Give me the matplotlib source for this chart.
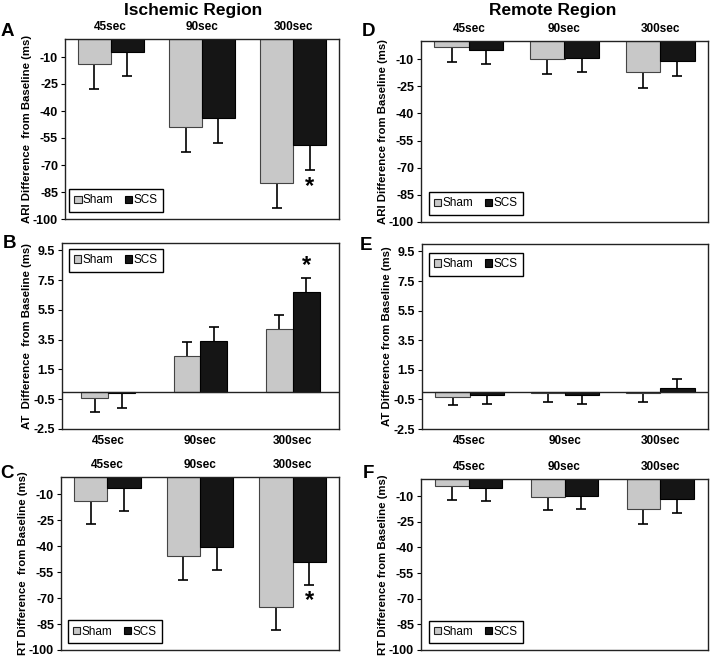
import matplotlib
matplotlib.use("Agg")
import matplotlib.pyplot as plt
from matplotlib.patches import Patch
import numpy as np

plt.rcParams['font.family'] = ['Liberation Sans', 'DejaVu Sans']

categories = ["45sec", "90sec", "300sec"]
groups = ["Sham", "SCS"]

# Ischemic region
ari_isch_sham = [-14, -49, -80]
ari_isch_sham_err = [14, 14, 14]
ari_isch_scs = [-7, -44, -59]
ari_isch_scs_err = [13.5, 14, 14]

at_isch_sham = [-0.4, 2.43, 4.2]
at_isch_sham_err = [0.95, 0.95, 0.96]
at_isch_scs = [-0.1, 3.4, 6.69]
at_isch_scs_err = [0.97, 0.96, 0.96]

rt_isch_sham = [-14, -45.6, -75]
rt_isch_sham_err = [13.4, 13.8, 13.7]
rt_isch_scs = [-6.5, -40.2, -49.2]
rt_isch_scs_err = [13.2, 13.4, 13.4]

# Remote region
ari_rem_sham = [-3.3, -10.1, -17.3]
ari_rem_sham_err = [8.3, 8.3, 8.4]
ari_rem_scs = [-4.8, -9.4, -11.0]
ari_rem_scs_err = [7.7, 7.9, 8.1]

at_rem_sham = [-0.34, -0.1, -0.1]
at_rem_sham_err = [0.56, 0.6, 0.6]
at_rem_scs = [-0.2, -0.2, 0.3]
at_rem_scs_err = [0.6, 0.6, 0.6]

rt_rem_sham = [-3.9, -10.5, -17.5]
rt_rem_sham_err = [8.2, 7.9, 8.6]
rt_rem_scs = [-5.1, -9.8, -11.7]
rt_rem_scs_err = [8.0, 8.0, 8.2]

ms_ticks = [-10, -25, -40, -55, -70, -85, -100]
at_ticks = [9.5, 7.5, 5.5, 3.5, 1.5, -0.5, -2.5]

W, H = 711, 658
fig = plt.figure(figsize=(W / 100, H / 100), dpi=100)

def add_ax(l, t, r, b):
    return fig.add_axes([l / W, 1 - b / H, (r - l) / W, (b - t) / H])

SHAM_C = "#c8c8c8"
SCS_C = "#151515"

def panel(ax, sham, sham_e, scs, scs_e, kind, ylabel, width, labels_top,
          legend_loc, legend_anchor, star=False):
    x = np.arange(len(categories))
    for vals, errs, off, col, ec in [(sham, sham_e, -width / 2, SHAM_C, "#444444"),
                                     (scs, scs_e, width / 2, SCS_C, "#000000")]:
        vals = np.array(vals, dtype=float)
        errs = np.array(errs, dtype=float)
        ends = np.where(vals < 0, vals - errs, vals + errs)
        ax.bar(x + off, vals, width, color=col, edgecolor=ec, linewidth=0.8, zorder=2)
        ax.vlines(x + off, vals, ends, color="black", linewidth=1.2, zorder=1.5)
        ax.plot(x + off, ends, linestyle="none", marker="_", markersize=6.5,
                markeredgewidth=1.2, color="black", zorder=3)
    ax.set_xlim(-0.5, 2.5)
    if kind == "ms":
        ax.set_ylim(-100, 0)
        ax.set_yticks(ms_ticks)
        ax.set_yticklabels([str(t) for t in ms_ticks])
    else:
        ax.set_ylim(-2.5, 10.0)
        ax.set_yticks(at_ticks)
        ax.set_yticklabels([f"{t:.1f}" for t in at_ticks])
        ax.axhline(0, color="#222222", linewidth=1.0, zorder=4)
    ax.set_xticks(x)
    ax.set_xticklabels(categories, fontsize=8.5, fontweight="bold")
    if labels_top:
        ax.xaxis.tick_top()
    ax.tick_params(axis="x", length=0, pad=4)
    ax.tick_params(axis="y", length=3, width=0.8, direction="out", pad=2,
                   labelsize=9)
    for lab in ax.get_yticklabels():
        lab.set_fontweight("bold")
    for s in ax.spines.values():
        s.set_linewidth(1.0)
        s.set_color("#222222")
    ax.set_ylabel(ylabel, fontsize=8.2, fontweight="bold", labelpad=1)
    handles = [Patch(facecolor=SHAM_C, edgecolor="#222222", linewidth=0.8),
               Patch(facecolor=SCS_C, edgecolor="#000000", linewidth=0.8)]
    leg = ax.legend(handles, groups, loc=legend_loc, bbox_to_anchor=legend_anchor,
                    ncol=2, fontsize=8.5, frameon=True, fancybox=False,
                    edgecolor="black", framealpha=1, borderaxespad=0,
                    handlelength=0.6, handleheight=0.6, handletextpad=0.1,
                    columnspacing=1.0, borderpad=0.45)
    leg.get_frame().set_linewidth(1.0)
    if star:
        v = scs[2]
        e = scs_e[2]
        if v < 0:
            ax.annotate("*", xy=(2 + width / 2, v - e), xytext=(0, -3),
                        textcoords="offset points", ha="center", va="top",
                        fontsize=17, fontweight="bold")
        else:
            ax.annotate("*", xy=(2 + width / 2, v + e), xytext=(0, 1),
                        textcoords="offset points", ha="center", va="bottom",
                        fontsize=17, fontweight="bold")
    return ax

axA = add_ax(65, 39, 339, 219)
panel(axA, ari_isch_sham, ari_isch_sham_err, ari_isch_scs, ari_isch_scs_err, "ms",
      "ARI Difference  from Baseline (ms)", 0.36, True, "lower left", (0.015, 0.04), star=True)
axB = add_ax(62, 243, 339, 429)
panel(axB, at_isch_sham, at_isch_sham_err, at_isch_scs, at_isch_scs_err, "at",
      "AT  Difference  from Baseline (ms)", 0.29, False, "upper left", (0.025, 0.968), star=True)
axC = add_ax(61, 477, 339, 650)
panel(axC, rt_isch_sham, rt_isch_sham_err, rt_isch_scs, rt_isch_scs_err, "ms",
      "RT Difference  from Baseline (ms)", 0.36, True, "lower left", (0.025, 0.04), star=True)

axD = add_ax(421, 41, 708, 222)
panel(axD, ari_rem_sham, ari_rem_sham_err, ari_rem_scs, ari_rem_scs_err, "ms",
      "ARI Difference from Baseline (ms)", 0.36, True, "lower left", (0.028, 0.04))
axE = add_ax(422, 244, 708, 429)
panel(axE, at_rem_sham, at_rem_sham_err, at_rem_scs, at_rem_scs_err, "at",
      "AT Difference from Baseline (ms)", 0.36, False, "upper left", (0.024, 0.951))
axF = add_ax(421, 479, 708, 650)
panel(axF, rt_rem_sham, rt_rem_sham_err, rt_rem_scs, rt_rem_scs_err, "ms",
      "RT Difference from Baseline (ms)", 0.35, True, "lower left", (0.028, 0.04))

fig.text(193 / W, 1 - 10 / H, "Ischemic Region", ha="center", va="center",
         fontsize=12.5, fontweight="bold")
fig.text(553 / W, 1 - 10 / H, "Remote Region", ha="center", va="center",
         fontsize=12.5, fontweight="bold")

for letter, (px, py) in {"A": (7, 31), "B": (9, 244), "C": (7, 473),
                         "D": (368, 32), "E": (366, 245), "F": (368, 473)}.items():
    fig.text(px / W, 1 - py / H, letter, ha="center", va="center",
             fontsize=13.5, fontweight="bold")

fig.savefig("out.png", dpi=100)
